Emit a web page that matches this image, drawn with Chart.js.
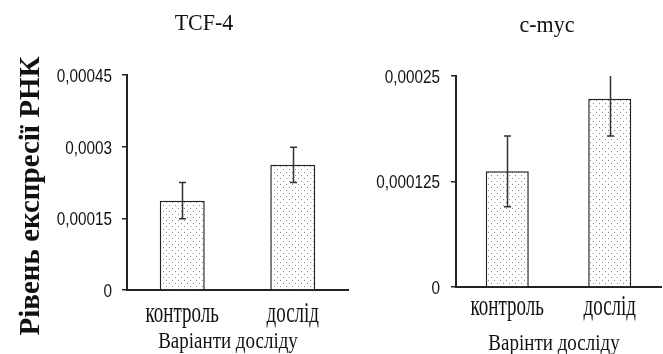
<!DOCTYPE html>
<html>
<head>
<meta charset="utf-8">
<script src="https://cdn.jsdelivr.net/npm/chart.js@4/dist/chart.umd.min.js"></script>
<style>
  html, body { margin:0; padding:0; background:#fff; overflow:hidden; }
  #wrap { position:relative; width:663px; height:354px; }
  canvas { position:absolute; top:0; }
  #c1 { left:0; }
  #c2 { left:340px; }
</style>
</head>
<body>
<div id="wrap">
  <canvas id="c1" width="350" height="354"></canvas>
  <canvas id="c2" width="323" height="354"></canvas>
</div>
<script>
// ---- data ----
const categories = ['контроль', 'дослід'];
const tcf4Values = [0.000187, 0.000262];
const tcf4Errors = [0.000038, 0.000037];
const mycValues  = [0.000137, 0.000223];
const mycErrors  = [0.000042, 0.000044];
const tcf4Ticks  = [0, 0.00015, 0.0003, 0.00045];
const tcf4TickLabels = ['0', '0,00015', '0,0003', '0,00045'];
const mycTicks   = [0, 0.000125, 0.00025];
const mycTickLabels = ['0', '0,000125', '0,00025'];
const titleTCF = 'TCF-4';
const titleMyc = 'c-myc';
const yTitle = 'Рівень експресії РНК';
const xTitleTCF = 'Варіанти досліду';
const xTitleMyc = 'Варінти досліду';

// ---- dotted fill pattern ----
function makePattern() {
  const p = document.createElement('canvas');
  p.width = 6; p.height = 6;
  const g = p.getContext('2d');
  g.fillStyle = '#ffffff'; g.fillRect(0, 0, 6, 6);
  g.fillStyle = '#8a8a8a';
  g.fillRect(1, 1, 1, 1);
  g.fillRect(4, 4, 1, 1);
  return g.createPattern(p, 'repeat');
}
const dots = makePattern();

const SERIF = "'Liberation Serif', 'Times New Roman', serif";
const SANS = "'Liberation Sans', Arial, sans-serif";

function drawText(ctx, text, x, y, font, sx, sy, rot, align, baseline) {
  ctx.save();
  ctx.translate(x, y);
  if (rot) ctx.rotate(rot);
  ctx.scale(sx || 1, sy || 1);
  ctx.font = font;
  ctx.fillStyle = '#111';
  ctx.textAlign = align || 'center';
  ctx.textBaseline = baseline || 'alphabetic';
  ctx.fillText(text, 0, 0);
  ctx.restore();
}

const errorBars = {
  id: 'errorBars',
  afterDatasetsDraw(chart, args, opts) {
    const ctx = chart.ctx, y = chart.scales.y, area = chart.chartArea;
    const meta = chart.getDatasetMeta(0);
    const vals = chart.data.datasets[0].data;
    ctx.save();
    ctx.beginPath();
    ctx.rect(area.left - 10, area.top, area.right - area.left + 20, area.bottom - area.top);
    ctx.clip();
    ctx.strokeStyle = '#333';
    ctx.lineWidth = 1.5;
    meta.data.forEach((bar, i) => {
      const hi = y.getPixelForValue(vals[i] + opts.errors[i]);
      const lo = y.getPixelForValue(vals[i] - opts.errors[i]);
      const cx = Math.round(bar.x) + 0.5;
      ctx.beginPath();
      ctx.moveTo(cx, hi); ctx.lineTo(cx, lo);
      ctx.moveTo(cx - 3.5, hi); ctx.lineTo(cx + 3.5, hi);
      ctx.moveTo(cx - 3.5, lo); ctx.lineTo(cx + 3.5, lo);
      ctx.stroke();
    });
    ctx.restore();
  }
};

const texts = {
  id: 'texts',
  afterDraw(chart, args, o) {
    const ctx = chart.ctx, x = chart.scales.x, y = chart.scales.y;
    // y tick labels (narrow sans)
    y.ticks.forEach((t, i) => {
      drawText(ctx, o.tickLabels[i], y.right - o.tickGap, y.getPixelForValue(t.value) + 2,
               '18px ' + SANS, 0.85, 1, 0, 'right', 'middle');
    });
    drawText(ctx, o.title, o.titleX, o.titleY, '22px ' + SERIF, 1, 1.05, 0);
    chart.data.labels.forEach((lab, i) => {
      drawText(ctx, lab, x.getPixelForValue(i), o.catY, '19px ' + SERIF, 1, 1.5, 0);
    });
    drawText(ctx, o.xTitle, o.xTitleX, o.xTitleY, '19px ' + SERIF, 1, 1.2, 0);
    if (o.yTitle) drawText(ctx, o.yTitle, o.yTitleX, o.yTitleY, 'bold 29px ' + SERIF, 1, 1, -Math.PI / 2);
  }
};

function makeChart(id, values, errors, ticks, tickLabels, cfg) {
  return new Chart(document.getElementById(id), {
    type: 'bar',
    data: {
      labels: categories,
      datasets: [{
        data: values,
        backgroundColor: dots,
        borderColor: '#222',
        borderWidth: 1.5,
        barPercentage: cfg.barPct,
        categoryPercentage: 1
      }]
    },
    options: {
      responsive: false,
      animation: false,
      devicePixelRatio: 1,
      layout: { padding: { top: cfg.top, right: cfg.right, left: 0, bottom: 0 } },
      plugins: {
        legend: { display: false },
        tooltip: { enabled: false },
        errorBars: { errors: errors },
        texts: Object.assign({ tickLabels: tickLabels }, cfg.texts)
      },
      scales: {
        x: {
          grid: { display: false },
          border: { display: true, color: '#222', width: 2 },
          ticks: { display: false },
          afterFit(s) { s.height = cfg.xHeight; }
        },
        y: {
          min: 0,
          max: ticks[ticks.length - 1],
          afterBuildTicks(s) { s.ticks = ticks.map(v => ({ value: v })); },
          grid: { display: true, drawOnChartArea: false, drawTicks: true, tickLength: 5, color: '#222', lineWidth: 1.5 },
          border: { display: true, color: '#222', width: 2 },
          ticks: { display: false },
          afterFit(s) { s.width = cfg.yWidth; }
        }
      }
    },
    plugins: [errorBars, texts]
  });
}

makeChart('c1', tcf4Values, tcf4Errors, tcf4Ticks, tcf4TickLabels, {
  top: 75, right: 2, xHeight: 64, yWidth: 127, barPct: 0.407,
  texts: { tickGap: 15, title: titleTCF, titleX: 204, titleY: 30, catY: 322, xTitle: xTitleTCF, xTitleX: 228, xTitleY: 348,
           yTitle: yTitle, yTitleX: 39, yTitleY: 196 }
});

makeChart('c2', mycValues, mycErrors, mycTicks, mycTickLabels, {
  top: 76, right: 2, xHeight: 67, yWidth: 116, barPct: 0.42,
  texts: { tickGap: 16, title: titleMyc, titleX: 207, titleY: 32, catY: 315, xTitle: xTitleMyc, xTitleX: 214, xTitleY: 350 }
});
</script>
</body>
</html>
